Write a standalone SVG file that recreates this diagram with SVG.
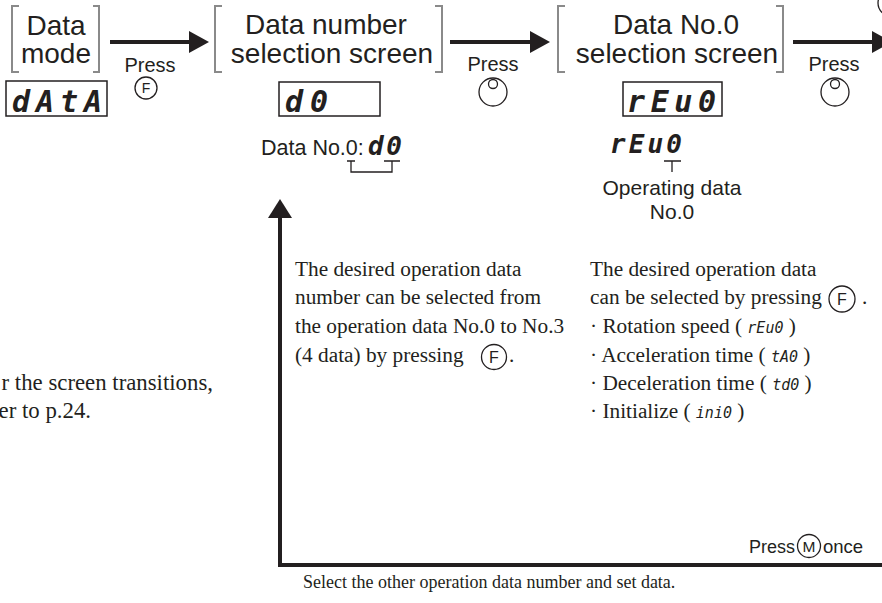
<svg xmlns="http://www.w3.org/2000/svg" width="882" height="603" viewBox="0 0 882 603">
<style>
.sans{font-family:"Liberation Sans",Arial,sans-serif;fill:#231f20}
.serif{font-family:"Liberation Serif","Times New Roman",serif;fill:#231f20;font-size:21.3px}
.hdr{font-size:28px;text-anchor:middle}
.press{font-size:20px;text-anchor:middle}
.lbl{font-size:21px}
.seg{font-family:"DejaVu Sans Mono",monospace;font-style:oblique;font-weight:bold;fill:#231f20}
.segi{font-family:"DejaVu Sans Mono",monospace;font-style:oblique;font-size:15px}
.brk{fill:none;stroke:#8a8a8a;stroke-width:2}
.box{fill:#fff;stroke:#231f20;stroke-width:1.5}
.thin{fill:none;stroke:#231f20;stroke-width:1.3}
.btn{fill:#fff;stroke:#231f20;stroke-width:1.3}
.conn{fill:none;stroke:#231f20;stroke-width:4;stroke-linejoin:miter}
</style>
<defs>
<marker id="ah" markerUnits="userSpaceOnUse" markerWidth="20" markerHeight="24" refX="0" refY="11" orient="auto" overflow="visible">
<path d="M0,0 L20,11 L0,22 Z" fill="#231f20"/>
</marker>
<marker id="ahUp" markerUnits="userSpaceOnUse" markerWidth="20" markerHeight="26" refX="0" refY="12" orient="auto" overflow="visible">
<path d="M0,0 L19,12 L0,24 Z" fill="#231f20"/>
</marker>
</defs>

<g id="connectors">
<line class="conn" x1="110" y1="42" x2="189" y2="42" marker-end="url(#ah)"/>
<line class="conn" x1="450" y1="42" x2="530" y2="42" marker-end="url(#ah)"/>
<line class="conn" x1="793" y1="42" x2="872" y2="42" marker-end="url(#ah)"/>
<path class="conn" d="M884,565 H280 V218" marker-end="url(#ahUp)"/>
</g>

<g id="node-data-mode">
<path class="brk" d="M19,6 H12 V72 H19"/>
<path class="brk" d="M93,6 H99 V72 H93"/>
<text class="sans hdr" x="56" y="35">Data</text>
<text class="sans hdr" x="56" y="63">mode</text>
<rect class="box" x="6" y="81" width="101" height="35"/>
<text class="seg" x="12" y="112" font-size="30" textLength="90" lengthAdjust="spacing">dAtA</text>
</g>

<g id="press-f-1">
<text class="sans press" x="150" y="72">Press</text>
<circle class="btn" cx="146" cy="88" r="11"/>
<text class="sans" x="146" y="93" font-size="14" text-anchor="middle">F</text>
</g>

<g id="node-data-number">
<path class="brk" d="M222,6 H215 V72 H222"/>
<path class="brk" d="M435,6 H442 V72 H435"/>
<text class="sans hdr" x="326" y="34">Data number</text>
<text class="sans hdr" x="332" y="63">selection screen</text>
<rect class="box" x="279" y="82" width="101" height="34"/>
<text class="seg" x="285" y="112" font-size="30" textLength="43" lengthAdjust="spacing">d0</text>
</g>

<g id="press-knob-1">
<text class="sans press" x="493" y="71">Press</text>
<circle class="btn" cx="493" cy="92" r="14"/>
<circle class="btn" cx="493" cy="84" r="4.5"/>
</g>

<g id="node-data-no0">
<path class="brk" d="M565,6 H558 V72 H565"/>
<path class="brk" d="M776,6 H783 V72 H776"/>
<text class="sans hdr" x="676" y="34">Data No.0</text>
<text class="sans hdr" x="677" y="63">selection screen</text>
<rect class="box" x="623" y="82" width="99" height="34"/>
<text class="seg" x="627" y="112" font-size="30" textLength="89" lengthAdjust="spacing">rEu0</text>
</g>

<g id="press-knob-2">
<text class="sans press" x="834" y="71">Press</text>
<circle class="btn" cx="835" cy="92" r="14"/>
<circle class="btn" cx="835" cy="84" r="4.5"/>
</g>

<g id="next-partial">
<circle class="btn" cx="891" cy="3" r="13"/>
</g>

<g id="label-data-no0">
<text class="sans" x="261" y="155" font-size="21.5">Data No.0:</text>
<text class="seg" x="368" y="155" font-size="26" textLength="34" lengthAdjust="spacing">d0</text>
<path class="thin" d="M347,161 H355 M351,161 V172 H392 V161 M384,161 H400"/>
</g>

<g id="label-operating">
<text class="seg" x="610" y="153" font-size="26" font-weight="normal" textLength="72" lengthAdjust="spacing">rEu0</text>
<path class="thin" d="M664,161 H681 M672,161 V172"/>
<text class="sans lbl" x="672" y="195" text-anchor="middle">Operating data</text>
<text class="sans lbl" x="672" y="219" text-anchor="middle">No.0</text>
</g>

<g id="note-left">
<text class="serif" x="295" y="276">The desired operation data</text>
<text class="serif" x="295" y="304">number can be selected from</text>
<text class="serif" x="295" y="333">the operation data No.0 to No.3</text>
<text class="serif" x="295" y="362">(4 data) by pressing</text>
<circle class="btn" cx="494" cy="357" r="12.5"/>
<text class="sans" x="494" y="363" font-size="16" text-anchor="middle">F</text>
<text class="serif" x="509" y="362">.</text>
</g>

<g id="note-right">
<text class="serif" x="590" y="276">The desired operation data</text>
<text class="serif" x="590" y="304">can be selected by pressing</text>
<circle class="btn" cx="842" cy="299" r="13"/>
<text class="sans" x="842" y="305" font-size="16" text-anchor="middle">F</text>
<text class="serif" x="862" y="304">.</text>
<text class="serif" x="590" y="333">· Rotation speed ( <tspan class="segi">rEu0</tspan> )</text>
<text class="serif" x="590" y="362">· Acceleration time ( <tspan class="segi">tA0</tspan> )</text>
<text class="serif" x="590" y="390">· Deceleration time ( <tspan class="segi">td0</tspan> )</text>
<text class="serif" x="590" y="418">· Initialize ( <tspan class="segi">ini0</tspan> )</text>
</g>

<g id="note-transitions">
<text class="serif" x="213" y="390" text-anchor="end" style="font-size:22.8px">r the screen transitions,</text>
<text class="serif" x="91" y="418" text-anchor="end" style="font-size:22.8px">er to p.24.</text>
</g>

<g id="label-press-m">
<text class="sans" x="795" y="553" font-size="18" text-anchor="end">Press</text>
<circle class="btn" cx="809" cy="546" r="11.5"/>
<text class="sans" x="809" y="552" font-size="15.5" text-anchor="middle">M</text>
<text class="sans" x="823" y="553" font-size="18.5">once</text>
</g>

<g id="label-bottom">
<text class="serif" x="303" y="588" style="font-size:18px">Select the other operation data number and set data.</text>
</g>
</svg>
